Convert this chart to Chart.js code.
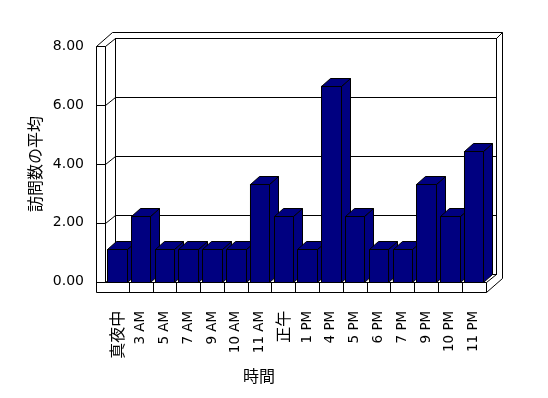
<!DOCTYPE html>
<html>
<head>
<meta charset="utf-8">
<script src="https://cdn.jsdelivr.net/npm/chart.js@4"></script>
<style>
    body { margin: 0; background: #fff; }
</style>
</head>
<body>
<canvas id="visitChart" width="548" height="398"></canvas>
<script>
const hours = ["真夜中", "3 AM", "5 AM", "7 AM", "9 AM", "10 AM", "11 AM", "正午", "1 PM", "4 PM", "5 PM", "6 PM", "7 PM", "9 PM", "10 PM", "11 PM"];
const avgVisits = [1, 2, 1, 1, 1, 1, 3, 2, 1, 6, 2, 1, 1, 3, 2, 4];
const yTicks = [0, 2, 4, 6, 8];
const yTitle = "訪問数の平均";
const xTitle = "時間";

const NAVY = "#000080";
// depth of the walls/bars in the fake 3d look
const WALL_DX = 10, WALL_DY = -8;
const SLAB = 6;        // thickness of the back wall
const LEFT_T = 9;      // thickness of the left wall
const FLOOR_T = 10;    // thickness of the floor
const BAR_DX = 9, BAR_DY = -8;

const px = v => Math.round(v) + 0.5;

function line(ctx, x1, y1, x2, y2) {
    ctx.beginPath();
    ctx.moveTo(px(x1), px(y1));
    ctx.lineTo(px(x2), px(y2));
    ctx.stroke();
}

function poly(ctx, pts, fill) {
    ctx.beginPath();
    pts.forEach(([x, y], i) => i ? ctx.lineTo(px(x), px(y)) : ctx.moveTo(px(x), px(y)));
    ctx.closePath();
    ctx.fillStyle = fill;
    ctx.fill();
    ctx.stroke();
}

const box3d = {
    id: "box3d",
    beforeDatasetsDraw(chart) {
        const { ctx, chartArea: a, scales } = chart;
        const L = a.left, R = a.right, T = a.top, B = a.bottom;
        ctx.save();
        ctx.lineWidth = 1;
        ctx.strokeStyle = "#000";

        // outer outline of walls + floor
        poly(ctx, [
            [L - LEFT_T, T],
            [L - LEFT_T + WALL_DX + SLAB, T + WALL_DY - SLAB],
            [R + WALL_DX + SLAB, T + WALL_DY - SLAB],
            [R + WALL_DX + SLAB, B + FLOOR_T + WALL_DY - SLAB],
            [R, B + FLOOR_T],
            [L - LEFT_T, B + FLOOR_T]
        ], "#fff");

        // left wall
        line(ctx, L - LEFT_T, T, L, T);
        line(ctx, L, T, L, B);
        line(ctx, L, T, L + WALL_DX, T + WALL_DY);
        line(ctx, L, B, L + WALL_DX, B + WALL_DY);

        // back wall
        ctx.strokeRect(px(L + WALL_DX), px(T + WALL_DY), Math.round(R - L), Math.round(B - T));
        line(ctx, R + WALL_DX, T + WALL_DY, R + WALL_DX + SLAB, T + WALL_DY - SLAB);

        // floor
        line(ctx, L, B, R, B);
        line(ctx, R, B, R + WALL_DX, B + WALL_DY);
        line(ctx, R, B, R, B + FLOOR_T);
        const xs = scales.x;
        for (let i = 0; i < hours.length - 1; i++) {
            const bx = (xs.getPixelForTick(i) + xs.getPixelForTick(i + 1)) / 2;
            line(ctx, bx, B, bx, B + FLOOR_T);
        }

        // grid lines on the back wall + tick marks
        const ys = scales.y;
        yTicks.forEach(v => {
            const y = ys.getPixelForValue(v);
            line(ctx, L - LEFT_T, y, L, y);
            if (v > 0 && v < 8) {
                line(ctx, L, y, L + WALL_DX, y + WALL_DY);
                line(ctx, L + WALL_DX, y + WALL_DY, R + WALL_DX, y + WALL_DY);
            }
        });
        ctx.restore();
    },
    afterDatasetsDraw(chart) {
        const { ctx } = chart;
        const meta = chart.getDatasetMeta(0);
        ctx.save();
        ctx.lineWidth = 1;
        ctx.strokeStyle = "#000";
        // draw left to right so the next bar hides the side of the previous one
        meta.data.forEach(bar => {
            const { x, y, base, width } = bar.getProps(["x", "y", "base", "width"], true);
            const x1 = x - width / 2, x2 = x + width / 2;
            poly(ctx, [[x2, y], [x2 + BAR_DX, y + BAR_DY], [x2 + BAR_DX, base + BAR_DY], [x2, base]], NAVY);
            poly(ctx, [[x1, y], [x2, y], [x2 + BAR_DX, y + BAR_DY], [x1 + BAR_DX, y + BAR_DY]], NAVY);
            poly(ctx, [[x1, y], [x2, y], [x2, base], [x1, base]], NAVY);
        });
        ctx.restore();
    }
};

const isCJK = s => /[^\x00-\x7F]/.test(s);

new Chart(document.getElementById("visitChart"), {
    type: "bar",
    data: {
        labels: hours,
        datasets: [{
            data: avgVisits,
            yAxisID: "yb",
            backgroundColor: NAVY,
            borderColor: "#000",
            borderWidth: 1,
            categoryPercentage: 1,
            barPercentage: 0.82
        }]
    },
    options: {
        responsive: false,
        animation: false,
        layout: { padding: { left: 0, right: 30, top: 46, bottom: 0 } },
        plugins: {
            legend: { display: false },
            tooltip: { enabled: false },
            title: {
                display: true,
                position: "bottom",
                text: xTitle,
                color: "#000",
                font: { family: "'Noto Sans CJK JP'", size: 16, weight: "normal" },
                padding: { top: 0, bottom: 12 }
            }
        },
        scales: {
            x: {
                grid: { display: false },
                border: { display: false },
                ticks: {
                    autoSkip: false,
                    minRotation: 90,
                    maxRotation: 90,
                    padding: 21,
                    color: "#000",
                    font: c => isCJK(hours[c.index] || "")
                        ? { family: "'Noto Sans CJK JP'", size: 16 }
                        : { family: "'DejaVu Sans'", size: 13.5 }
                },
                afterFit: s => { s.height = 85; }
            },
            y: {
                position: "left",
                min: 0,
                max: 8,
                grid: { display: false, drawTicks: false },
                border: { display: false },
                afterBuildTicks: s => { s.ticks = yTicks.map(v => ({ value: v })); },
                ticks: {
                    padding: 21,
                    color: "#000",
                    font: { family: "'DejaVu Sans'", size: 14 },
                    callback: v => v.toFixed(2)
                },
                title: {
                    display: true,
                    text: yTitle,
                    color: "#000",
                    font: { family: "'Noto Sans CJK JP'", size: 16 },
                    padding: { top: 25, bottom: 0 }
                },
                afterFit: s => { s.width = 105; }
            },
            // bars sit a bit taller than the front axis in the original 3d view
            yb: {
                position: "right",
                min: 0,
                max: 7.21,
                grid: { display: false, drawTicks: false },
                border: { display: false },
                ticks: { display: false },
                afterFit: s => { s.width = 32.5; }
            }
        }
    },
    plugins: [box3d]
});
</script>
</body>
</html>
